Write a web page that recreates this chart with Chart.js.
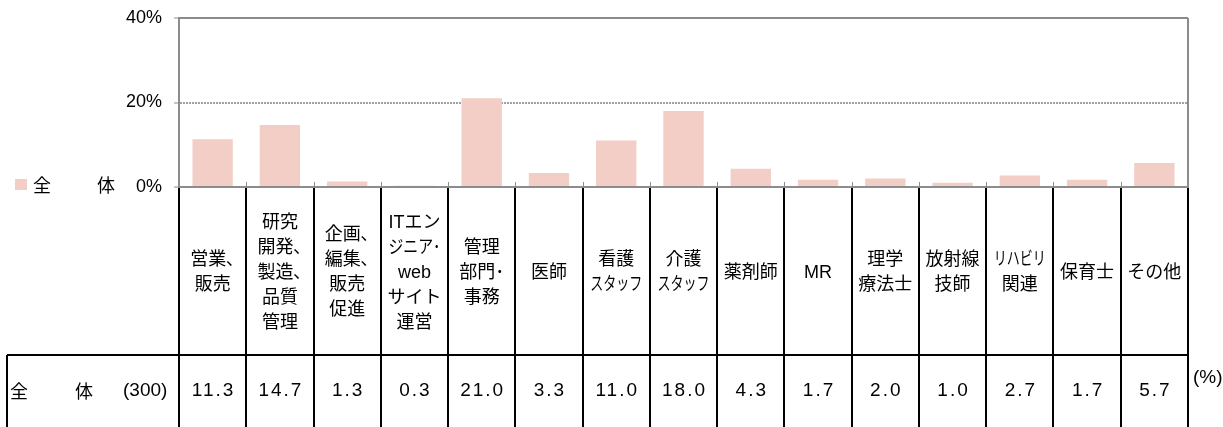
<!DOCTYPE html>
<html>
<head>
<meta charset="utf-8">
<script src="https://cdn.jsdelivr.net/npm/chart.js@4/dist/chart.umd.min.js"></script>
<style>
  html, body { margin: 0; padding: 0; background: #fff; }
  #wrap { width: 1223px; height: 427px; position: relative; }
</style>
</head>
<body>
<div id="wrap"><canvas id="chart"></canvas></div>
<script>
// category labels (one entry per line inside the table cell)
const categories = [
  ['営業､', '販売'],
  ['研究', '開発､', '製造､', '品質', '管理'],
  ['企画､', '編集､', '販売', '促進'],
  ['ITエン', 'ジニア･', 'web', 'サイト', '運営'],
  ['管理', '部門･', '事務'],
  ['医師'],
  ['看護', 'スタッフ'],
  ['介護', 'スタッフ'],
  ['薬剤師'],
  ['MR'],
  ['理学', '療法士'],
  ['放射線', '技師'],
  ['リハビリ', '関連'],
  ['保育士'],
  ['その他']
];
const seriesName = '全　体';
const sampleSize = '(300)';
const values = [11.3, 14.7, 1.3, 0.3, 21.0, 3.3, 11.0, 18.0, 4.3, 1.7, 2.0, 1.0, 2.7, 1.7, 5.7];
const yTicks = [0, 20, 40];

const barColor = 'rgb(242, 206, 198)';
const axisGray = '#8c8c8c';
const latinFont = '"Liberation Sans", Arial, "Noto Sans CJK JP", sans-serif';

// draws the frame, the legend and the data table under the plot
const tablePlugin = {
  id: 'tablePlugin',
  afterDraw(chart) {
    const ctx = chart.ctx;
    const area = chart.chartArea;
    const xs = chart.scales.x;
    const colW = (area.right - area.left) / categories.length;
    const H = chart.height;
    const rowLineY = 355;
    const valueY = 391;

    ctx.save();

    // top border + right border of the plot
    ctx.strokeStyle = axisGray;
    ctx.lineWidth = 2;
    ctx.beginPath();
    ctx.moveTo(area.left, area.top);
    ctx.lineTo(area.right, area.top);
    ctx.moveTo(area.right, area.top);
    ctx.lineTo(area.right, area.bottom);
    ctx.stroke();

    // small tick marks on the category axis (pointing up)
    ctx.lineWidth = 1;
    ctx.beginPath();
    for (let i = 1; i < categories.length; i++) {
      const x = Math.round(xs.getPixelForValue(i) - colW / 2) + 0.5;
      ctx.moveTo(x, area.bottom - 5);
      ctx.lineTo(x, area.bottom);
    }
    ctx.stroke();

    // table grid
    ctx.strokeStyle = '#000';
    ctx.lineWidth = 2;
    ctx.beginPath();
    for (let i = 0; i <= categories.length; i++) {
      const x = Math.round(area.left + i * colW);
      ctx.moveTo(x, area.bottom + 1);
      ctx.lineTo(x, H);
    }
    ctx.moveTo(7, rowLineY);
    ctx.lineTo(Math.round(area.right), rowLineY);
    ctx.moveTo(7, rowLineY);
    ctx.lineTo(7, H);
    ctx.stroke();

    // category labels, centred in their cells (long katakana lines get squeezed)
    ctx.fillStyle = '#000';
    ctx.textAlign = 'center';
    ctx.textBaseline = 'middle';
    ctx.font = '18px ' + latinFont;
    const lineH = 25;
    const midY = 273;
    categories.forEach((lines, i) => {
      const cx = xs.getPixelForValue(i);
      const y0 = midY - (lines.length - 1) * lineH / 2;
      lines.forEach((t, j) => {
        const w = ctx.measureText(t).width;
        ctx.fillText(t, cx, y0 + j * lineH, w > 60 ? 52 : w + 1);
      });
    });

    // value row
    ctx.font = '19px ' + latinFont;
    ctx.letterSpacing = '2px';
    values.forEach((v, i) => {
      const cx = xs.getPixelForValue(i) + 1;
      ctx.fillText(v.toFixed(1), cx, valueY);
    });
    ctx.letterSpacing = '0px';

    // row header
    ctx.textAlign = 'left';
    ctx.font = '18px "Noto Sans CJK JP", sans-serif';
    ctx.fillText(seriesName[0], 10, valueY);
    ctx.fillText(seriesName[2], 75, valueY);
    ctx.font = '19px ' + latinFont;
    ctx.fillText(sampleSize, 123, valueY);
    ctx.fillText('(%)', 1193, 378);

    // legend
    ctx.fillStyle = barColor;
    ctx.fillRect(15, 179, 12, 11);
    ctx.fillStyle = '#000';
    ctx.font = '18px "Noto Sans CJK JP", sans-serif';
    ctx.fillText(seriesName[0], 33, 185);
    ctx.fillText(seriesName[2], 97, 185);

    ctx.restore();
  }
};

new Chart(document.getElementById('chart'), {
  type: 'bar',
  data: {
    labels: categories,
    datasets: [{
      label: seriesName,
      data: values,
      backgroundColor: barColor,
      borderWidth: 0,
      barPercentage: 0.6,
      categoryPercentage: 1
    }]
  },
  options: {
    responsive: true,
    maintainAspectRatio: false,
    animation: false,
    layout: { padding: { top: 18, right: 35, left: 0, bottom: 0 } },
    plugins: {
      legend: { display: false },
      tooltip: { enabled: false }
    },
    scales: {
      x: {
        ticks: { display: false },
        grid: { display: false },
        border: { color: axisGray, width: 2 },
        afterFit: (s) => { s.height = 240; }
      },
      y: {
        min: 0,
        max: 40,
        afterBuildTicks: (s) => { s.ticks = yTicks.map(v => ({ value: v })); },
        ticks: {
          padding: 12,
          color: '#000',
          font: { family: latinFont, size: 18 },
          callback: (v) => v + '%'
        },
        grid: {
          color: (c) => (c.tick && c.tick.value === 20 ? '#a0a0a0' : 'rgba(0,0,0,0)'),
          lineWidth: 2,
          tickLength: 5,
          tickColor: axisGray,
          tickWidth: 1
        },
        border: { color: axisGray, width: 2, dash: [2, 1] },
        afterFit: (s) => { s.width = 179; s.paddingTop = 0; s.paddingBottom = 0; }
      }
    }
  },
  plugins: [tablePlugin]
});
</script>
</body>
</html>
